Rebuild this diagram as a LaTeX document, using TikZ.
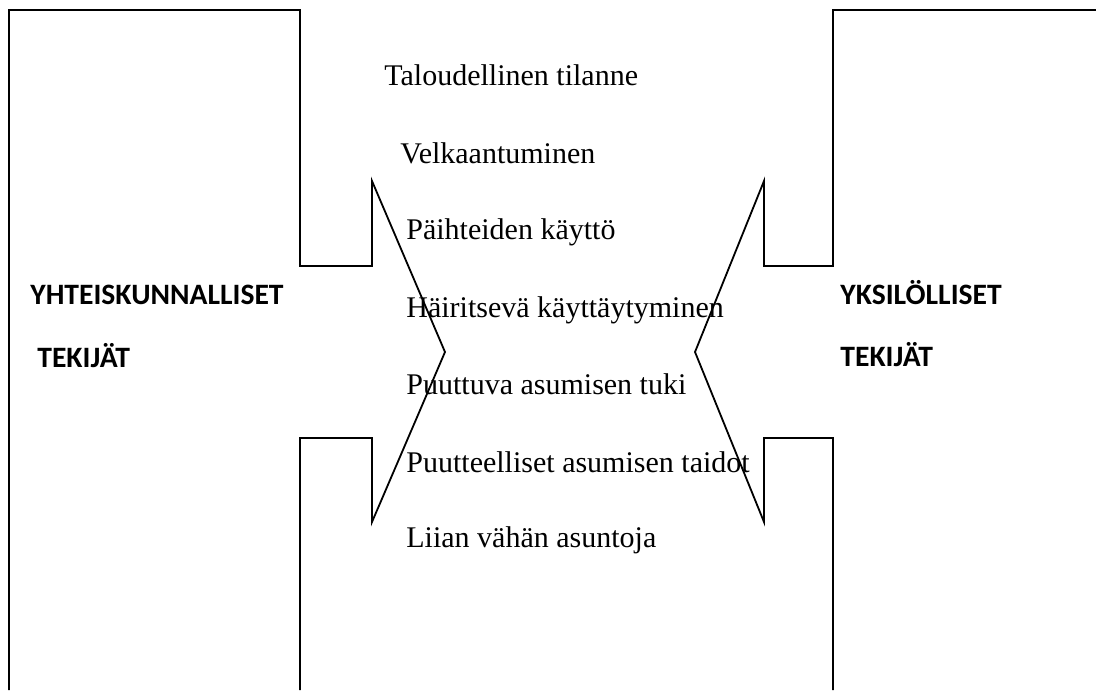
\documentclass[tikz,border=0pt]{standalone}
\usepackage{fontspec}
\setmainfont{Liberation Serif}
\newfontfamily\labelfont{Carlito}
\usepackage{tikz}
\tikzstyle{factorText}=[anchor = base west, inner sep = 0pt, font = \fontsize{15}{18}\selectfont]
\tikzstyle{groupTitle}=[anchor = base west, inner sep = 0pt, font = \labelfont\bfseries\fontsize{14.8}{17}\selectfont]

\begin{document}
\begin{tikzpicture}[x = 0.5pt, y = -0.5pt]
\tikzstyle{outlineStyle}=[draw, line width = 0.9pt, line join = miter]
\useasboundingbox (0,0) rectangle (1096,690);
% left block
\draw[outlineStyle] (9,690) -- (9,10) -- (300,10) -- (300,266) -- (372,266) -- (372,181)
  -- (445,352) -- (372,522) -- (372,438) -- (300,438) -- (300,690);
% right block
\draw[outlineStyle] (1100,10) -- (833,10) -- (833,266) -- (764,266) -- (764,181)
  -- (695,352) -- (764,522) -- (764,438) -- (833,438) -- (833,690);
\node[groupTitle] (s1) at (30,304) {YHTEISKUNNALLISET};
\node[groupTitle] (s2) at (37,367) {TEKIJÄT};
\node[groupTitle] (y1) at (840,304) {YKSILÖLLISET};
\node[groupTitle] (y2) at (840,366) {TEKIJÄT};
\node[factorText] (f1) at (384,86) {Taloudellinen tilanne};
\node[factorText] (f2) at (400,163) {Velkaantuminen};
\node[factorText] (f3) at (406,239) {Päihteiden käyttö};
\node[factorText] (f4) at (406,317) {Häiritsevä käyttäytyminen};
\node[factorText] (f5) at (406,394) {Puuttuva asumisen tuki};
\node[factorText] (f6) at (406,472) {Puutteelliset asumisen taidot};
\node[factorText] (f7) at (406,547) {Liian vähän asuntoja};
\end{tikzpicture}
\end{document}
